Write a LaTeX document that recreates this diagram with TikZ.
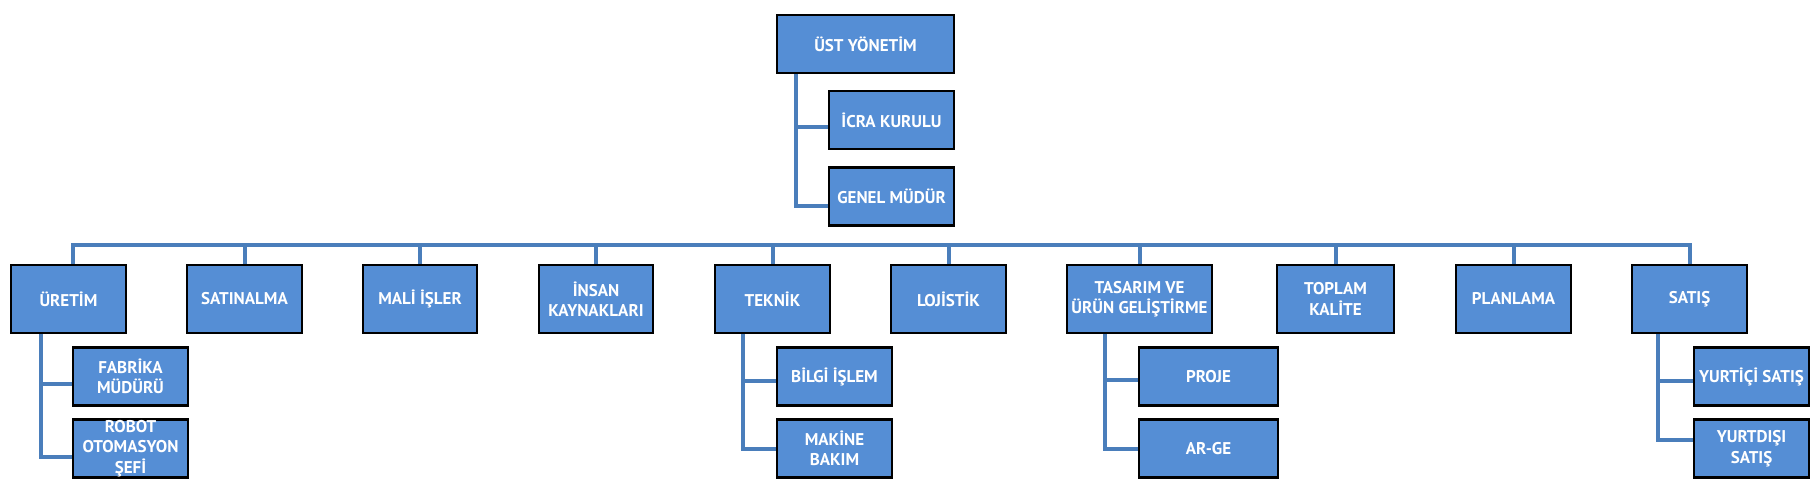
\documentclass[tikz,border=0pt]{standalone}
\usepackage{fontspec}
\setmainfont{PT Sans}
\definecolor{boxblue}{RGB}{85,142,213}
\definecolor{linkblue}{RGB}{74,126,187}
\pgfdeclarelayer{bg}
\pgfsetlayers{bg,main}
\begin{document}
\begin{tikzpicture}[x=1pt,y=-1pt,
  box/.style={draw=black, line width=2.4pt, fill=boxblue, text=white,
    font=\fontsize{17}{20.5}\selectfont\bfseries, align=center, inner sep=0pt,
    minimum width=115pt, minimum height=58pt},
  top/.style={box, minimum height=68pt},
  conn/.style={draw=linkblue, line width=4pt}]
\useasboundingbox (0,0) rectangle (1817,492);
% top section
\node[box, minimum width=177pt] (ust) at (865.5,44) {ÜST YÖNETİM};
\node[box, minimum width=125pt] (icra) at (891.5,120) {İCRA KURULU};
\node[box, minimum width=125pt] (genel) at (891.5,196.5) {GENEL MÜDÜR};
% departments
\node[top] (uretim) at (68.5,299) {ÜRETİM};
\node[top] (satinalma) at (244.5,299) {SATINALMA};
\node[top, minimum width=114pt] (mali) at (420,299) {MALİ İŞLER};
\node[top, minimum width=114pt] (insan) at (596,299) {İNSAN\\KAYNAKLARI};
\node[top] (teknik) at (772.5,299) {TEKNİK};
\node[top] (lojistik) at (948.5,299) {LOJİSTİK};
\node[top, minimum width=145pt] (tasarim) at (1139.5,299) {TASARIM VE\\ÜRÜN GELİŞTİRME};
\node[top, minimum width=117pt] (toplam) at (1335.5,299) {TOPLAM\\KALİTE};
\node[top] (planlama) at (1513.5,299) {PLANLAMA};
\node[top] (satis) at (1689.5,299) {SATIŞ};
% sub units
\node[box] (fabrika) at (130.5,376.5) {FABRİKA\\MÜDÜRÜ};
\node[box] (robot) at (130.5,448.5) {ROBOT\\OTOMASYON\\ŞEFİ};
\node[box] (bilgi) at (834.5,376.5) {BİLGİ İŞLEM};
\node[box] (makine) at (834.5,448.5) {MAKİNE\\BAKIM};
\node[box, minimum width=139pt] (proje) at (1208.5,376.5) {PROJE};
\node[box, minimum width=139pt] (arge) at (1208.5,448.5) {AR-GE};
\node[box] (yurtici) at (1751.5,376.5) {YURTİÇİ SATIŞ};
\node[box] (yurtdisi) at (1751.5,448.5) {YURTDIŞI\\SATIŞ};
\begin{pgfonlayer}{bg}
% connectors top
\draw[conn] ([xshift=20pt]ust.south west) |- ([yshift=-7pt]icra.west);
\draw[conn] ([xshift=20pt]ust.south west) |- ([yshift=-9pt]genel.west);
% bus
\coordinate (bus) at (0,245);
\draw[conn] ([xshift=4.5pt]uretim.north) |- (bus -| satis.north) -- (satis.north);
\foreach \n in {satinalma,mali,insan,teknik,lojistik,tasarim,toplam,planlama}
  \draw[conn] (\n.north) -- (\n.north |- bus);
% sub connectors
\draw[conn] ([xshift=31pt]uretim.south west) |- ([yshift=-7pt]fabrika.west);
\draw[conn] ([xshift=31pt]uretim.south west) |- ([yshift=-8pt]robot.west);
\draw[conn] ([xshift=29pt]teknik.south west) |- ([yshift=-4pt]bilgi.west);
\draw[conn] ([xshift=29pt]teknik.south west) |- (makine.west);
\draw[conn] ([xshift=39pt]tasarim.south west) |- ([yshift=-3pt]proje.west);
\draw[conn] ([xshift=39pt]tasarim.south west) |- (arge.west);
\draw[conn] ([xshift=27pt]satis.south west) |- ([yshift=-4pt]yurtici.west);
\draw[conn] ([xshift=27pt]satis.south west) |- ([yshift=9pt]yurtdisi.west);
\end{pgfonlayer}
\end{tikzpicture}
\end{document}
